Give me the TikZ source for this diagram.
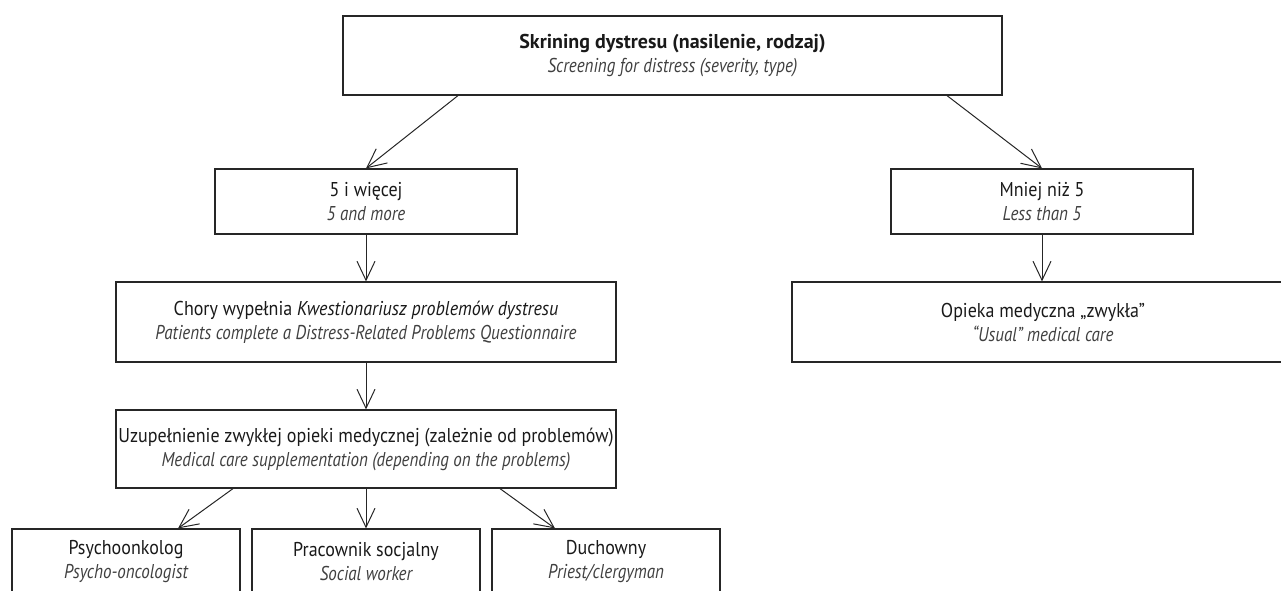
\documentclass[tikz,border=0pt]{standalone}
\usepackage{fontspec}
\setmainfont{PT Sans}[FakeStretch=0.9]
\newfontfamily\titlefont{PT Sans}
\newfontfamily\enfont{PT Sans}[FakeStretch=0.85]
\usetikzlibrary{arrows.meta}
\newcommand{\transl}[1]{{\color{black!75}\enfont\itshape #1}}
\begin{document}
\begin{tikzpicture}[x=1pt,y=-1pt,
				every node/.style={draw=black!85,line width=1.2pt,align=center,inner sep=0pt,
					text=black!90,font=\fontsize{20}{24}\selectfont},
				wide/.style={minimum width=500pt,minimum height=80pt},
				small/.style={minimum width=302pt,minimum height=65pt},
				leaf/.style={minimum width=228pt,minimum height=65pt},
				arr/.style={-{Straight Barb[length=19pt,width=18pt]},line width=1pt,draw=black!85}]
\useasboundingbox (0,0) rectangle (1281,590);
\clip (0,0) rectangle (1281,590);
\node[minimum width=659pt,minimum height=79pt] (screen) at (672.5,55.5)
	{{\titlefont\bfseries Skrining dystresu (nasilenie, rodzaj)}\\ \transl{Screening for distress (severity, type)}};
\node[small] (more) at (366,201.5) {5 i więcej\\ \transl{5 and more}};
\node[small] (less) at (1042,201.5) {Mniej niż 5\\ \transl{Less than 5}};
\node[wide] (quest) at (366,322) {Chory wypełnia \textit{Kwestionariusz problemów dystresu}\\
	\transl{Patients complete a Distress-Related Problems Questionnaire}};
\node[minimum width=502pt,minimum height=80pt] (usual) at (1043,322)
	{Opieka medyczna „zwykła”\\ \transl{“Usual” medical care}};
\node[wide,minimum height=78pt] (suppl) at (366,449)
	{Uzupełnienie zwykłej opieki medycznej (zależnie od problemów)\\
	\transl{Medical care supplementation (depending on the problems)}};
\node[leaf] (psy) at (126,561.5) {Psychoonkolog\\ \transl{Psycho-oncologist}};
\node[leaf] (social) at (366,561.5) {Pracownik socjalny\\ \transl{Social worker}};
\node[leaf] (priest) at (606,561.5) {Duchowny\\ \transl{Priest/clergyman}};
\draw[arr] ([xshift=-214.5pt]screen.south) -- (more.north);
\draw[arr] ([xshift=274.5pt]screen.south) -- (less.north);
\draw[arr] (more) -- (quest);
\draw[arr] (less.south) -- (less.south |- usual.north);
\draw[arr] (quest) -- (suppl);
\draw[arr] ([xshift=-133pt]suppl.south) -- ([xshift=52pt]psy.north);
\draw[arr] (suppl) -- (social);
\draw[arr] ([xshift=134pt]suppl.south) -- ([xshift=-51pt]priest.north);
\end{tikzpicture}
\end{document}
